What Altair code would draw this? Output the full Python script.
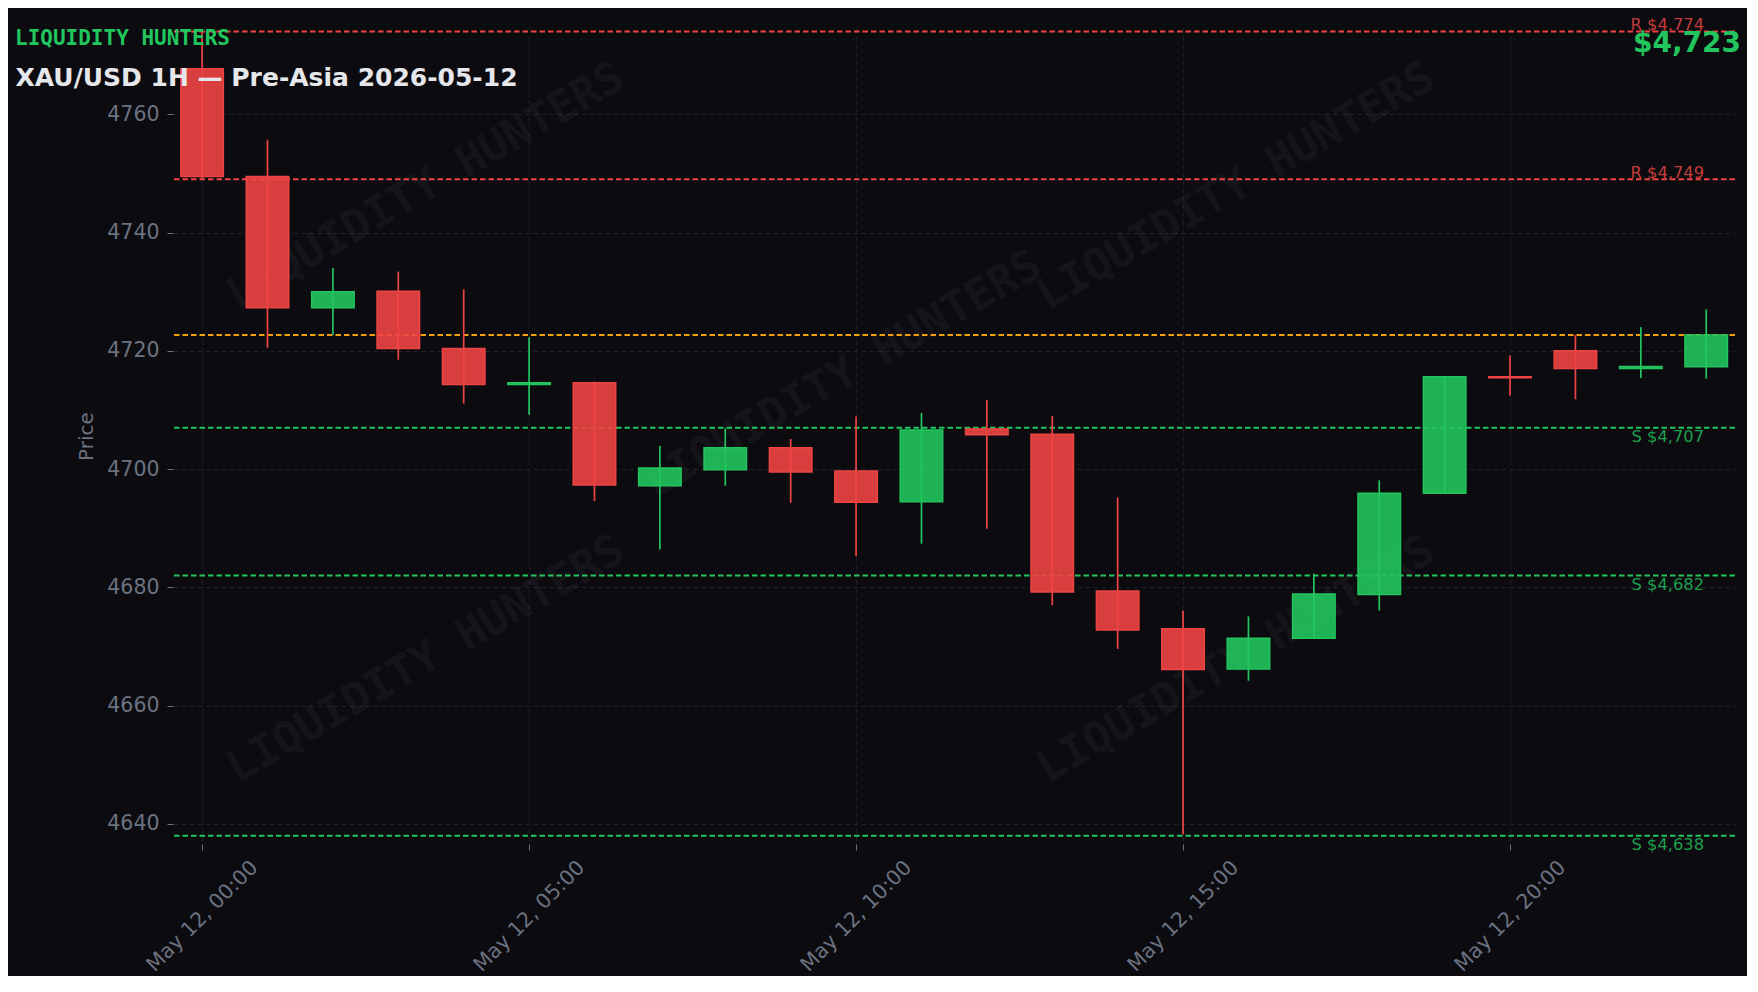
import altair as alt
import pandas as pd

# ---- data ----
hours = list(range(24))
opens = [4767.7, 4749.5, 4727.3, 4730.1, 4720.4, 4714.3, 4714.6, 4697.2, 4699.9, 4703.6,
         4699.7, 4694.5, 4706.8, 4705.9, 4679.4, 4673.0, 4666.2, 4671.4, 4678.8, 4695.9,
         4715.6, 4720.0, 4717.0, 4717.3]
highs = [4774.0, 4755.7, 4734.0, 4733.4, 4730.4, 4722.3, 4714.8, 4703.9, 4706.9, 4705.1,
         4708.9, 4709.5, 4711.7, 4709.0, 4695.2, 4676.1, 4675.1, 4682.3, 4698.1, 4715.7,
         4719.2, 4722.7, 4724.0, 4727.0]
lows = [4749.1, 4720.5, 4722.7, 4718.5, 4711.1, 4709.2, 4694.6, 4686.4, 4697.2, 4694.3,
        4685.3, 4687.4, 4689.9, 4677.0, 4669.6, 4638.2, 4664.2, 4671.3, 4676.1, 4695.8,
        4712.4, 4711.8, 4715.4, 4715.3]
closes = [4749.5, 4727.3, 4730.0, 4720.4, 4714.3, 4714.6, 4697.3, 4700.2, 4703.6, 4699.5,
          4694.4, 4706.6, 4705.8, 4679.2, 4672.8, 4666.1, 4671.4, 4678.9, 4695.9, 4715.6,
          4715.45, 4717.0, 4717.35, 4722.7]

level_values = [4774, 4749, 4707, 4682, 4638]
level_kinds = ["R", "R", "S", "S", "S"]
level_texts = ["R $4,774", "R $4,749", "S $4,707", "S $4,682", "S $4,638"]
current_price = 4722.7
current_text = "$4,723"

brand = "LIQUIDITY HUNTERS"
title_text = "XAU/USD 1H — Pre-Asia 2026-05-12"
y_ticks = [4640, 4660, 4680, 4700, 4720, 4740, 4760]
x_ticks = [0, 5, 10, 15, 20]

# ---- tables ----
candles = pd.DataFrame({"hour": hours, "open": opens, "high": highs, "low": lows, "close": closes})
candles["dir"] = ["up" if c >= o else "down" for o, c in zip(opens, closes)]
levels = pd.DataFrame({"value": level_values, "kind": level_kinds, "label": level_texts})
current = pd.DataFrame({"value": [current_price], "kind": ["P"]})

BG = "#0b0b10"
RED = "#ef4444"
GREEN = "#22c55e"
ORANGE = "#f59e0b"
GRAY = "#6b7280"
GRID = "#1f2029"

W, H = 1562, 816

xscale = alt.Scale(domain=[-0.445, 23.44], nice=False, zero=False, padding=0)
yscale = alt.Scale(domain=[4636.6, 4774.6], nice=False, zero=False, padding=0)

xaxis = alt.Axis(values=x_ticks, title=None, grid=True, gridColor=GRID, gridDash=[4.5, 3.5],
                 gridWidth=1, domain=False, tickColor=GRAY, tickSize=6, tickWidth=1,
                 labelExpr="'May 12, ' + (datum.value < 10 ? '0' + datum.value : datum.value) + ':00'",
                 labelAngle=315, labelAlign="center", labelBaseline="middle", labelPadding=66,
                 labelFontSize=20.5, labelColor=GRAY, labelFont="DejaVu Sans",
                 labelOverlap=False, labelBound=False, labelFlush=False)
yaxis = alt.Axis(values=y_ticks, format="d", title="Price", grid=True, gridColor=GRID, gridDash=[4.5, 3.5],
                 gridWidth=1, domain=False, tickColor=GRAY, tickSize=6, tickWidth=1,
                 labelFontSize=20.5, labelColor=GRAY, labelFont="DejaVu Sans", labelPadding=8,
                 titleFontSize=20, titleColor=GRAY, titleFont="DejaVu Sans", titleFontWeight="normal",
                 titleX=-87, titleY=H / 2, titleAngle=270, titleAlign="center", titleBaseline="middle",
                 labelOverlap=False, labelFlush=False)

dir_scale = alt.Scale(domain=["up", "down"], range=[GREEN, RED])

base = alt.Chart(candles).encode(
    x=alt.X("hour:Q", scale=xscale, axis=xaxis),
)

# watermarks (decorative, pixel placed)
wm_pos = [(253, 159), (1063, 159), (670, 347), (253, 632), (1063, 632)]
wm_layers = []
for px, py in wm_pos:
    wm_layers.append(
        alt.Chart(pd.DataFrame({"t": [brand]})).mark_text(
            angle=330, font="DejaVu Sans Mono", fontWeight="bold", fontSize=44,
            color="#ffffff", opacity=0.035, align="center", baseline="middle"
        ).encode(x=alt.value(px), y=alt.value(py), text="t:N")
    )

level_rules = alt.Chart(levels).mark_rule(strokeWidth=2, strokeDash=[5.5, 3]).encode(
    y=alt.Y("value:Q", scale=yscale),
    color=alt.Color("kind:N", scale=alt.Scale(domain=["R", "S", "P"], range=[RED, GREEN, ORANGE]), legend=None),
)
current_rule = alt.Chart(current).mark_rule(strokeWidth=2, strokeDash=[5.5, 3], color=ORANGE).encode(
    y=alt.Y("value:Q", scale=yscale),
)

wicks = base.mark_rule(strokeWidth=1.7).encode(
    y=alt.Y("low:Q", scale=yscale, axis=yaxis),
    y2="high:Q",
    color=alt.Color("dir:N", scale=dir_scale, legend=None),
)

bodies = base.mark_bar(size=42.5, fillOpacity=0.9, strokeWidth=1.5).encode(
    y=alt.Y("open:Q", scale=yscale),
    y2="close:Q",
    fill=alt.Fill("dir:N", scale=dir_scale, legend=None),
    stroke=alt.Stroke("dir:N", scale=dir_scale, legend=None),
)

r_labels = alt.Chart(levels[levels.kind == "R"]).mark_text(
    align="right", baseline="alphabetic", dy=-1.5, fontSize=16.3, font="DejaVu Sans", color="#c33b3b"
).encode(x=alt.value(1531), y=alt.Y("value:Q", scale=yscale), text="label:N")
s_labels = alt.Chart(levels[levels.kind == "S"]).mark_text(
    align="right", baseline="alphabetic", dy=14, fontSize=16.3, font="DejaVu Sans", color="#1d9f4d"
).encode(x=alt.value(1531), y=alt.Y("value:Q", scale=yscale), text="label:N")

price_text = alt.Chart(pd.DataFrame({"t": [current_text]})).mark_text(
    align="right", baseline="alphabetic", fontSize=28, fontWeight="bold", font="DejaVu Sans", color=GREEN
).encode(x=alt.value(1568), y=alt.value(24), text="t:N")

brand_text = alt.Chart(pd.DataFrame({"t": [brand]})).mark_text(
    align="left", baseline="alphabetic", fontSize=21, fontWeight="bold", font="DejaVu Sans Mono", color=GREEN
).encode(x=alt.value(-158), y=alt.value(17), text="t:N")

title_mark = alt.Chart(pd.DataFrame({"t": [title_text]})).mark_text(
    align="left", baseline="alphabetic", fontSize=25, fontWeight="bold", font="DejaVu Sans", color="#e5e7eb"
).encode(x=alt.value(-157.5), y=alt.value(58), text="t:N")

chart = alt.layer(
    *wm_layers, level_rules, current_rule, wicks, bodies, r_labels, s_labels,
    price_text, brand_text, title_mark
).properties(
    width=W, height=H,
    padding={"left": 165, "top": 20, "right": 12, "bottom": 132},
    autosize=alt.AutoSizeParams(type="none"),
    background=BG,
).configure_view(stroke=None).resolve_scale(color="independent")

chart.save("out.html", embed_options={"renderer": "svg", "actions": False})
